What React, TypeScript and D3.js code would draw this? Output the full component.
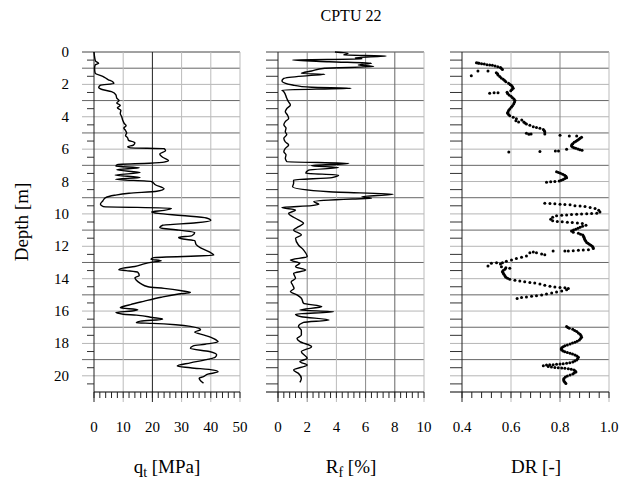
import React from "react";
import * as d3 from "d3";

// ---- Data (depth [m], value) ----
const qtData: [number, number][] = [
  [0, 0], [0.3, 0.2], [0.55, 0.5], [0.7, 1.6], [0.8, 0.4], [1.0, 0.2], [1.3, 0.4], [1.5, 3.0], [1.7, 4.8],
  [1.85, 6.5], [1.95, 6.8], [2.05, 2.2], [2.2, 1.6], [2.3, 2.5], [2.45, 6.0], [2.65, 7.5], [2.85, 7.8],
  [3.0, 8.6], [3.15, 7.8], [3.3, 9.0], [3.45, 8.0], [3.6, 9.2], [3.8, 9.0], [4.0, 9.5], [4.2, 9.8],
  [4.4, 10.3], [4.55, 11.0], [4.7, 10.2], [4.85, 10.8], [5.0, 11.2], [5.15, 10.8], [5.3, 11.5],
  [5.45, 11.8], [5.6, 14.0], [5.75, 13.5], [5.85, 11.5], [5.92, 12.5], [5.97, 24.0], [6.1, 24.5],
  [6.3, 22.5], [6.5, 23.5], [6.7, 25.5], [6.8, 24.0], [6.87, 19.0], [6.95, 8.0], [7.05, 7.5],
  [7.15, 15.5], [7.28, 7.8], [7.45, 15.8], [7.6, 7.2], [7.75, 15.8], [7.86, 7.4], [8.0, 19.7],
  [8.2, 21.0], [8.45, 24.0], [8.6, 21.5], [8.72, 12.0], [8.85, 7.0], [9.0, 4.0], [9.2, 3.0],
  [9.4, 2.2], [9.55, 3.2], [9.65, 26.5], [9.78, 24.0], [9.88, 19.7], [9.97, 22.0], [10.1, 30.0],
  [10.25, 38.5], [10.4, 40.0], [10.55, 35.0], [10.7, 23.5], [10.85, 22.5], [11.0, 29.0], [11.15, 34.5],
  [11.35, 33.5], [11.45, 29.0], [11.55, 30.5], [11.65, 34.5], [11.9, 35.0], [12.1, 36.5], [12.35, 39.5],
  [12.55, 41.0], [12.7, 20.5], [12.8, 19.5], [12.9, 23.0], [12.98, 20.0], [13.1, 16.8], [13.25, 14.0],
  [13.35, 10.0], [13.45, 8.5], [13.5, 11.0], [13.6, 15.0], [13.8, 15.5], [13.95, 14.0], [14.1, 14.5],
  [14.3, 16.0], [14.5, 18.5], [14.6, 24.0], [14.75, 30.0], [14.85, 33.0], [14.95, 29.0], [15.15, 23.0],
  [15.4, 17.0], [15.6, 12.5], [15.8, 9.0], [15.92, 15.0], [16.0, 13.0], [16.08, 7.5], [16.2, 10.0],
  [16.25, 14.5], [16.4, 20.0], [16.5, 23.5], [16.62, 16.0], [16.72, 14.5], [16.76, 20.0], [16.85, 28.0],
  [16.95, 33.0], [17.15, 36.5], [17.3, 34.5], [17.5, 38.0], [17.7, 41.0], [17.9, 42.5], [18.05, 38.0],
  [18.15, 34.0], [18.3, 33.0], [18.5, 39.5], [18.7, 42.0], [18.85, 41.5], [19.0, 38.5], [19.2, 33.0],
  [19.4, 28.5], [19.5, 33.0], [19.65, 41.0], [19.75, 42.5], [19.9, 39.0], [20.05, 37.5], [20.15, 36.0],
  [20.3, 36.5], [20.45, 37.5],
];

const rfData: [number, number][] = [
  [0.0, 3.9], [0.08, 4.8], [0.19, 4.5], [0.25, 7.4], [0.35, 5.3], [0.43, 5.75], [0.49, 1.0], [0.6, 3.5],
  [0.7, 6.4], [0.8, 5.5], [0.9, 6.55], [1.0, 3.2], [1.17, 2.3], [1.32, 1.6], [1.38, 3.2], [1.46, 2.1],
  [1.63, 0.4], [1.79, 0.27], [2.04, 1.0], [2.18, 2.3], [2.24, 5.0], [2.35, 0.27], [2.45, 0.4],
  [2.86, 0.6], [3.05, 0.7], [3.27, 0.85], [3.5, 0.6], [3.69, 0.5], [3.9, 0.65], [4.1, 0.73], [4.3, 0.5],
  [4.5, 0.4], [4.7, 0.55], [4.92, 0.5], [5.1, 0.6], [5.33, 0.4], [5.55, 0.5], [5.74, 0.73], [5.95, 0.5],
  [6.16, 0.4], [6.35, 0.55], [6.57, 0.5], [6.77, 0.6], [6.88, 4.85], [7.02, 2.3], [7.14, 4.15],
  [7.29, 2.1], [7.49, 1.9], [7.6, 4.15], [7.76, 3.7], [7.91, 1.07], [8.11, 1.07], [8.32, 1.0],
  [8.63, 3.5], [8.79, 7.9], [8.94, 5.75], [9.04, 6.4], [9.08, 5.1], [9.24, 2.45], [9.41, 2.8],
  [9.49, 2.3], [9.61, 0.27], [9.76, 1.2], [9.97, 0.73], [10.27, 1.2], [10.58, 1.75], [10.79, 1.4],
  [10.99, 1.07], [11.3, 1.6], [11.51, 1.2], [11.92, 1.4], [12.23, 1.75], [12.64, 2.0], [12.85, 0.85],
  [13.05, 1.5], [13.26, 1.2], [13.47, 1.9], [13.67, 1.07], [13.98, 1.2], [14.2, 0.9], [14.39, 1.0],
  [14.6, 1.1], [14.8, 0.85], [15.0, 1.3], [15.21, 1.6], [15.52, 1.75], [15.73, 3.0], [15.94, 1.5],
  [16.04, 3.8], [16.2, 1.2], [16.35, 1.6], [16.55, 3.5], [16.7, 1.75], [16.96, 1.4], [17.2, 1.6],
  [17.48, 1.6], [17.7, 1.3], [17.89, 1.5], [18.2, 2.3], [18.51, 1.6], [18.92, 2.0], [19.13, 1.5],
  [19.33, 2.0], [19.64, 1.07], [19.85, 1.4], [20.16, 1.6], [20.4, 1.5],
];

const drData: [number, number][] = [
  [0.66, 0.459], [0.68, 0.465], [0.70, 0.470], [0.72, 0.480], [0.74, 0.491], [0.78, 0.502], [0.80, 0.513],
  [0.82, 0.524], [0.86, 0.535], [0.91, 0.546], [0.95, 0.557], [1.46, 0.438], [1.17, 0.465], [1.17, 0.506],
  [1.0, 0.56], [1.08, 0.565], [1.28, 0.540], [1.35, 0.545], [1.42, 0.547], [1.52, 0.554], [1.6, 0.56],
  [1.69, 0.568], [1.76, 0.574], [1.83, 0.579], [1.93, 0.590], [2.0, 0.596], [2.06, 0.601], [2.15, 0.606],
  [2.24, 0.609], [2.32, 0.604], [2.39, 0.599], [2.49, 0.584], [2.55, 0.513], [2.51, 0.531], [2.51, 0.547],
  [2.57, 0.586], [2.65, 0.592], [2.74, 0.600], [2.82, 0.606], [2.9, 0.612], [3.0, 0.616], [3.1, 0.614],
  [3.21, 0.611], [3.32, 0.606], [3.42, 0.601], [3.52, 0.595], [3.62, 0.590], [3.72, 0.587], [3.79, 0.586],
  [3.86, 0.590], [3.93, 0.595], [4.03, 0.609], [4.12, 0.622], [4.24, 0.620], [4.32, 0.631], [4.20, 0.644],
  [4.32, 0.652], [4.38, 0.657], [4.44, 0.663], [4.53, 0.677], [4.61, 0.691], [4.67, 0.704], [4.71, 0.718],
  [4.79, 0.732], [4.86, 0.736], [4.94, 0.738], [5.06, 0.738], [5.02, 0.663], [5.08, 0.673], [5.06, 0.682],
  [5.14, 0.800], [5.19, 0.838], [5.19, 0.868], [5.27, 0.888], [5.33, 0.882], [5.39, 0.877], [5.45, 0.871],
  [5.51, 0.865], [5.58, 0.858], [5.66, 0.852], [5.73, 0.848], [5.80, 0.847], [5.86, 0.851], [5.91, 0.857],
  [5.95, 0.864], [5.99, 0.873], [6.03, 0.881], [6.07, 0.890], [6.17, 0.591], [6.15, 0.718], [6.11, 0.781],
  [6.11, 0.794], [6.01, 0.827],
  [7.39, 0.786], [7.44, 0.794], [7.49, 0.802], [7.55, 0.811], [7.61, 0.819], [7.68, 0.824], [7.76, 0.827],
  [7.82, 0.820], [7.88, 0.813], [7.92, 0.805], [7.96, 0.797], [8.0, 0.779], [8.02, 0.762], [8.05, 0.745],
  [9.34, 0.738], [9.36, 0.759], [9.38, 0.779], [9.40, 0.800], [9.42, 0.820], [9.44, 0.841], [9.49, 0.861],
  [9.51, 0.882], [9.55, 0.902], [9.61, 0.923], [9.67, 0.943], [9.77, 0.958], [9.88, 0.963], [9.96, 0.950],
  [9.98, 0.929], [9.99, 0.909], [10.0, 0.888], [10.02, 0.868], [10.04, 0.847], [10.06, 0.827], [10.08, 0.807],
  [10.12, 0.786], [10.21, 0.770], [10.33, 0.762], [10.43, 0.770], [10.47, 0.789], [10.49, 0.809],
  [10.51, 0.830], [10.53, 0.850], [10.56, 0.871], [10.60, 0.891], [10.70, 0.906],
  [10.77, 0.892], [10.83, 0.882], [10.89, 0.873], [10.95, 0.864], [11.0, 0.855], [11.06, 0.847],
  [11.14, 0.854], [11.20, 0.875], [11.25, 0.884], [11.30, 0.893], [11.38, 0.896], [11.45, 0.898],
  [11.53, 0.900], [11.61, 0.902], [11.68, 0.905], [11.76, 0.909], [11.82, 0.914], [11.88, 0.920],
  [11.94, 0.926], [12.0, 0.932], [12.07, 0.935], [12.13, 0.936], [12.21, 0.916], [12.23, 0.895],
  [12.25, 0.875], [12.27, 0.854], [12.29, 0.834], [12.29, 0.820], [12.29, 0.772], [12.52, 0.738],
  [12.48, 0.725], [12.40, 0.704], [12.36, 0.691], [12.40, 0.677], [12.6, 0.663], [12.68, 0.643],
  [12.76, 0.622], [12.85, 0.602], [12.93, 0.581], [13.01, 0.565], [13.09, 0.557], [13.01, 0.541],
  [13.05, 0.520], [13.22, 0.506], [13.26, 0.561], [13.32, 0.579], [13.36, 0.595], [13.42, 0.575],
  [13.5, 0.568], [13.57, 0.565], [13.65, 0.568], [13.73, 0.571], [13.82, 0.575], [13.92, 0.579],
  [13.98, 0.586], [14.04, 0.595], [14.10, 0.616], [14.15, 0.636], [14.19, 0.656], [14.23, 0.677],
  [14.27, 0.697], [14.33, 0.718], [14.41, 0.738], [14.47, 0.759], [14.51, 0.779], [14.54, 0.800],
  [14.56, 0.820], [14.60, 0.834], [14.68, 0.827], [14.76, 0.807], [14.83, 0.786], [14.89, 0.766],
  [14.95, 0.745], [15.01, 0.725], [15.05, 0.704], [15.09, 0.684], [15.13, 0.663], [15.17, 0.643],
  [15.22, 0.625],
  [16.96, 0.827], [17.02, 0.832], [17.07, 0.838], [17.13, 0.852], [17.2, 0.860], [17.27, 0.868],
  [17.35, 0.875], [17.44, 0.882], [17.53, 0.886], [17.62, 0.888], [17.7, 0.884], [17.79, 0.879],
  [17.86, 0.870], [17.93, 0.861], [17.98, 0.851], [18.04, 0.841], [18.09, 0.830], [18.14, 0.820],
  [18.2, 0.813], [18.26, 0.807], [18.34, 0.805], [18.41, 0.807], [18.46, 0.813], [18.51, 0.820],
  [18.56, 0.830], [18.61, 0.841], [18.66, 0.851], [18.71, 0.861], [18.78, 0.869], [18.86, 0.875],
  [18.94, 0.872], [19.02, 0.868], [19.09, 0.860], [19.15, 0.852], [19.19, 0.840], [19.23, 0.827],
  [19.25, 0.813], [19.27, 0.800], [19.29, 0.786], [19.31, 0.772], [19.32, 0.758], [19.33, 0.745],
  [19.38, 0.732], [19.43, 0.752], [19.46, 0.765], [19.48, 0.779], [19.5, 0.793], [19.52, 0.807],
  [19.54, 0.820], [19.56, 0.834], [19.6, 0.846], [19.64, 0.857], [19.7, 0.862], [19.77, 0.865],
  [19.83, 0.858], [19.89, 0.852], [19.95, 0.841], [20.01, 0.830], [20.08, 0.822], [20.16, 0.816],
  [20.24, 0.815], [20.32, 0.816], [20.4, 0.820], [20.47, 0.824],
];

const depthTicks = [0, 2, 4, 6, 8, 10, 12, 14, 16, 18, 20];
const qtTicks = [0, 10, 20, 30, 40, 50];
const rfTicks = [0, 2, 4, 6, 8, 10];
const drTicks = [0.4, 0.6, 0.8, 1.0];
const drTickLabels = ["0.4", "0.6", "0.8", "1.0"];

export default function App() {
  const y = d3.scaleLinear().domain([0, 21]).range([52, 392]);
  const xQt = d3.scaleLinear().domain([0, 50]).range([94, 240]);
  const xRf = d3.scaleLinear().domain([0, 10]).range([278, 424]);
  const xDr = d3.scaleLinear().domain([0.4, 1.0]).range([462, 609]);

  const yTop = y(0);
  const yBot = y(21);

  const intDepths = d3.range(1, 21);
  const halfDepths = d3.range(0.5, 21, 1);

  const qtLine = d3
    .line<[number, number]>()
    .x((d) => xQt(d[1]))
    .y((d) => y(d[0]))
    .curve(d3.curveMonotoneY);
  const rfLine = d3
    .line<[number, number]>()
    .x((d) => xRf(d[1]))
    .y((d) => y(d[0]))
    .curve(d3.curveMonotoneY);

  const panels = [
    {
      key: "qt",
      x: xQt,
      gridStart: 82,
      tickStart: 87,
      axisX: xQt(0),
      right: xQt(50),
      vgrid: [
        { v: 10, c: "#bbb" },
        { v: 20, c: "#222" },
        { v: 30, c: "#bbb" },
        { v: 40, c: "#bbb" },
        { v: 50, c: "#bbb" },
      ],
      minor: d3.range(0, 50.001, 2),
      bottomStart: xQt(0),
    },
    {
      key: "rf",
      x: xRf,
      gridStart: 266,
      tickStart: 266,
      axisX: xRf(0),
      right: xRf(10),
      vgrid: [
        { v: 2, c: "#888" },
        { v: 4, c: "#bbb" },
        { v: 6, c: "#888" },
        { v: 8, c: "#666" },
        { v: 10, c: "#bbb" },
      ],
      minor: d3.range(0, 10.001, 0.4),
      bottomStart: 266,
    },
    {
      key: "dr",
      x: xDr,
      gridStart: 450,
      tickStart: 450,
      axisX: xDr(0.4),
      right: xDr(1.0),
      vgrid: [
        { v: 0.6, c: "#bbb" },
        { v: 0.8, c: "#888" },
        { v: 1.0, c: "#bbb" },
      ],
      minor: d3.range(0, 15.001, 1).map((i) => 0.4 + i * 0.04),
      bottomStart: 450,
    },
  ];

  const fTitle = { fontFamily: '"Times New Roman"' };
  const fDepth = { fontFamily: '"Tinos"' };
  const fBottom = { fontFamily: '"Liberation Serif"' };
  const fAxis = { fontFamily: '"Nimbus Roman"' };

  return (
    <div style={{ fontFamily: '"Liberation Serif"' }}>
      <svg width={632} height={479} style={{ position: "absolute", left: 0, top: 0 }}>
        <rect x={0} y={0} width={632} height={479} fill="#fff" />
        <text x={351} y={21} textAnchor="middle" fontSize={16} style={fTitle}>
          CPTU 22
        </text>

        {panels.map((p) => (
          <g key={p.key}>
            {intDepths.map((d) => (
              <line
                key={"h" + d}
                x1={p.gridStart}
                x2={p.right}
                y1={y(d)}
                y2={y(d)}
                stroke={d % 2 === 1 ? "#666" : "#b5b5b5"}
                strokeWidth={1}
              />
            ))}
            <line x1={p.gridStart} x2={p.right} y1={yTop} y2={yTop} stroke="#444" strokeWidth={1} />
            {halfDepths.map((d) => (
              <line
                key={"t" + d}
                x1={p.tickStart}
                x2={p.axisX}
                y1={y(d)}
                y2={y(d)}
                stroke="#333"
                strokeWidth={1}
              />
            ))}
            {p.vgrid.map((g) => (
              <line
                key={"v" + g.v}
                x1={p.x(g.v)}
                x2={p.x(g.v)}
                y1={yTop}
                y2={yBot + 10}
                stroke={g.c}
                strokeWidth={1}
              />
            ))}
            <line x1={p.axisX} x2={p.axisX} y1={yTop} y2={yBot + 10} stroke="#222" strokeWidth={1} />
            <line x1={p.bottomStart} x2={p.right} y1={yBot} y2={yBot} stroke="#000" strokeWidth={1.2} />
            {p.minor.map((v, i) => (
              <line
                key={"m" + i}
                x1={p.x(v)}
                x2={p.x(v)}
                y1={yBot}
                y2={yBot + 6}
                stroke="#222"
                strokeWidth={1}
              />
            ))}
          </g>
        ))}

        {depthTicks.map((d) => (
          <text key={"dl" + d} x={69} y={y(d) + 5} textAnchor="end" fontSize={15} style={fDepth}>
            {d}
          </text>
        ))}

        {qtTicks.map((v) => (
          <text key={"ql" + v} x={xQt(v)} y={432} textAnchor="middle" fontSize={15} style={fBottom}>
            {v}
          </text>
        ))}
        {rfTicks.map((v) => (
          <text key={"rl" + v} x={xRf(v)} y={432} textAnchor="middle" fontSize={15} style={fBottom}>
            {v}
          </text>
        ))}
        {drTicks.map((v, i) => (
          <text key={"drl" + v} x={xDr(v)} y={432} textAnchor="middle" fontSize={15} style={fBottom}>
            {drTickLabels[i]}
          </text>
        ))}

        <path d={qtLine(qtData) || ""} fill="none" stroke="#000" strokeWidth={1.4} />
        <path d={rfLine(rfData) || ""} fill="none" stroke="#000" strokeWidth={1.4} />
        {drData.map((d, i) => (
          <circle key={"dr" + i} cx={xDr(d[1])} cy={y(d[0])} r={1.5} fill="#000" />
        ))}

        <text x={167} y={473} textAnchor="middle" fontSize={19} style={fAxis}>
          q<tspan fontSize={14} dy={4}>t</tspan>
          <tspan dy={-4}> [MPa]</tspan>
        </text>
        <text x={351} y={473} textAnchor="middle" fontSize={19} style={fAxis}>
          R<tspan fontSize={14} dy={4}>f</tspan>
          <tspan dy={-4}> [%]</tspan>
        </text>
        <text x={536} y={473} textAnchor="middle" fontSize={19} style={fAxis}>
          DR [-]
        </text>
        <text transform="translate(28, 222) rotate(-90)" textAnchor="middle" fontSize={19} style={fTitle}>
          Depth [m]
        </text>
      </svg>
    </div>
  );
}
